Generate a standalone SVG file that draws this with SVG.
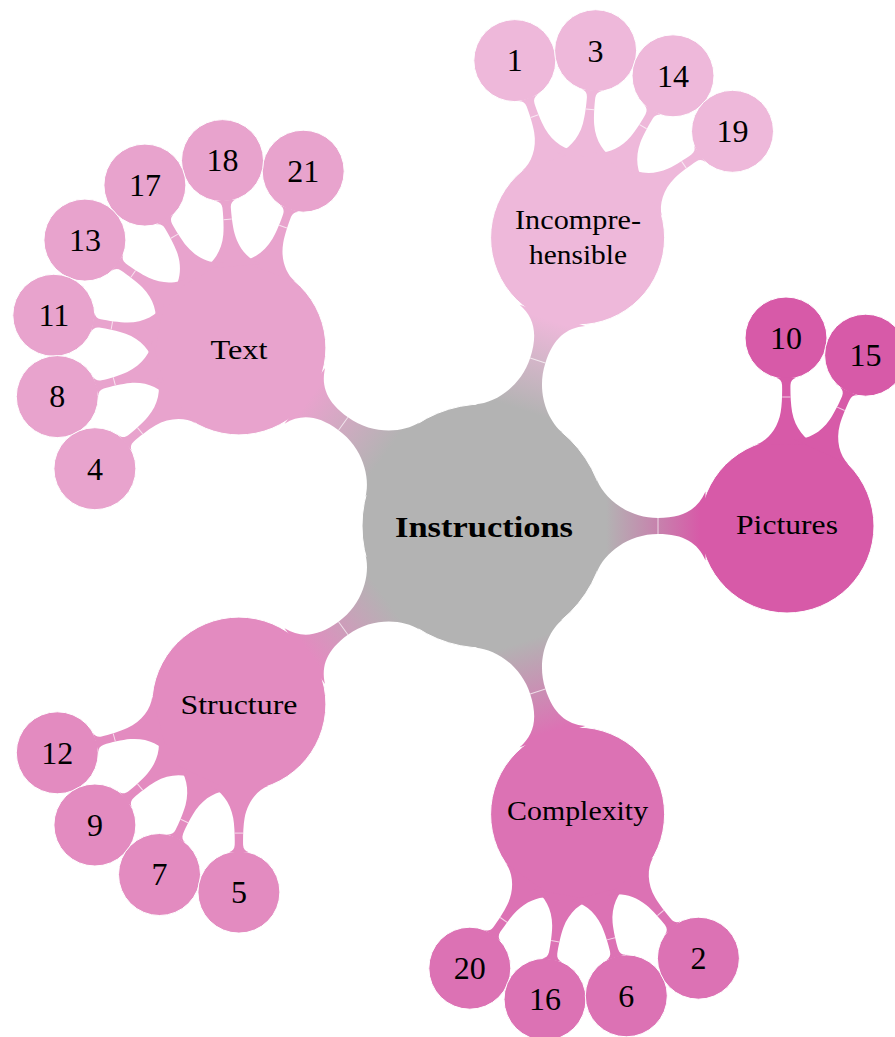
<svg xmlns="http://www.w3.org/2000/svg" width="895" height="1037" viewBox="0 0 895 1037">
  <style>
    text { font-family: "Liberation Serif", "DejaVu Serif", serif; fill: #000; }
    .num { font-size: 32px; text-anchor: middle; }
    .lbl { font-size: 28px; text-anchor: middle; }
    .root { font-size: 29.5px; font-weight: bold; text-anchor: middle; }
    circle { stroke: #ffffff; stroke-width: 1; }
    .seam { stroke: #ffffff; stroke-width: 1; stroke-opacity: 0.7; }
    .c-root { fill: #b3b3b3; }
    .c-inc { fill: #eeb8da; }
    .c-text { fill: #e8a3cd; }
    .c-struct { fill: #e38bc0; }
    .c-comp { fill: #dc72b4; }
    .c-pic { fill: #d75aa8; }
  </style>
  <defs>
    <!-- bar from the root circle (r=122) to a concept circle (r=87) 303 units away, along +x -->
    <g id="barA">
      <path d="M113.1 -45.7 C120.6 -27.2 144 -8 174 -8 C200 -8 214 -17 221.5 -34.5 L221.5 34.5 C214 17 200 8 174 8 C144 8 120.6 27.2 113.1 45.7 Z"/>
      <line class="seam" x1="174" y1="-8" x2="174" y2="8"/>
    </g>
    <!-- bar from a concept circle (r=87) to a leaf circle (r=41) 188 units away, along +x -->
    <g id="barB">
      <path d="M81.75 -29.76 C85.9 -18.5 98 -8.5 114 -5.7 C122 -4.3 134 -4 141 -4.2 C145 -4.4 147.3 -6.5 148.2 -9.9 L148.2 9.9 C147.3 6.5 145 4.4 141 4.2 C134 4 122 4.3 114 5.7 C98 8.5 85.9 18.5 81.75 29.76 Z"/>
      <line class="seam" x1="129" y1="-4.1" x2="129" y2="4.1"/>
    </g>
    <linearGradient id="gInc" gradientUnits="userSpaceOnUse" x1="122" y1="0" x2="216" y2="0">
      <stop offset="0" stop-color="#b3b3b3"/><stop offset="1" stop-color="#eeb8da"/>
    </linearGradient>
    <linearGradient id="gText" gradientUnits="userSpaceOnUse" x1="122" y1="0" x2="216" y2="0">
      <stop offset="0" stop-color="#b3b3b3"/><stop offset="1" stop-color="#e8a3cd"/>
    </linearGradient>
    <linearGradient id="gStruct" gradientUnits="userSpaceOnUse" x1="122" y1="0" x2="216" y2="0">
      <stop offset="0" stop-color="#b3b3b3"/><stop offset="1" stop-color="#e38bc0"/>
    </linearGradient>
    <linearGradient id="gComp" gradientUnits="userSpaceOnUse" x1="122" y1="0" x2="216" y2="0">
      <stop offset="0" stop-color="#b3b3b3"/><stop offset="1" stop-color="#dc72b4"/>
    </linearGradient>
    <linearGradient id="gPic" gradientUnits="userSpaceOnUse" x1="122" y1="0" x2="216" y2="0">
      <stop offset="0" stop-color="#b3b3b3"/><stop offset="1" stop-color="#d75aa8"/>
    </linearGradient>
  </defs>

  <!-- root -->
  <g id="instructions">
    <circle class="c-root" cx="484" cy="526" r="122"/>
  </g>

  <!-- first-level concepts -->
  <g id="incomprehensible">
    <circle class="c-inc" cx="577.6" cy="237.8" r="87"/>
  </g>
  <g id="text">
    <circle class="c-text" cx="238.9" cy="347.9" r="87"/>
  </g>
  <g id="structure">
    <circle class="c-struct" cx="238.9" cy="704.1" r="87"/>
  </g>
  <g id="complexity">
    <circle class="c-comp" cx="577.6" cy="814.2" r="87"/>
  </g>
  <g id="pictures">
    <circle class="c-pic" cx="787" cy="526" r="87"/>
  </g>

  <!-- leaves of Incomprehensible -->
  <g id="leaf-1"><circle class="c-inc" cx="514.8" cy="60.6" r="41"/></g>
  <g id="leaf-3"><circle class="c-inc" cx="595.6" cy="50.7" r="41"/></g>
  <g id="leaf-14"><circle class="c-inc" cx="673" cy="75.8" r="41"/></g>
  <g id="leaf-19"><circle class="c-inc" cx="732.5" cy="131.3" r="41"/></g>

  <!-- leaves of Text -->
  <g id="leaf-21"><circle class="c-text" cx="303.2" cy="171.2" r="41"/></g>
  <g id="leaf-18"><circle class="c-text" cx="222.5" cy="160.6" r="41"/></g>
  <g id="leaf-17"><circle class="c-text" cx="144.9" cy="185.1" r="41"/></g>
  <g id="leaf-13"><circle class="c-text" cx="84.9" cy="240.1" r="41"/></g>
  <g id="leaf-11"><circle class="c-text" cx="53.8" cy="315.3" r="41"/></g>
  <g id="leaf-8"><circle class="c-text" cx="57.3" cy="396.6" r="41"/></g>
  <g id="leaf-4"><circle class="c-text" cx="94.9" cy="468.7" r="41"/></g>

  <!-- leaves of Pictures -->
  <g id="leaf-10"><circle class="c-pic" cx="786" cy="338" r="41"/></g>
  <g id="leaf-15"><circle class="c-pic" cx="865.6" cy="355.2" r="41"/></g>

  <!-- leaves of Complexity -->
  <g id="leaf-20"><circle class="c-comp" cx="469.8" cy="968.2" r="41"/></g>
  <g id="leaf-16"><circle class="c-comp" cx="545" cy="999.3" r="41"/></g>
  <g id="leaf-6"><circle class="c-comp" cx="626.3" cy="995.8" r="41"/></g>
  <g id="leaf-2"><circle class="c-comp" cx="698.4" cy="958.2" r="41"/></g>

  <!-- leaves of Structure -->
  <g id="leaf-12"><circle class="c-struct" cx="57.3" cy="752.8" r="41"/></g>
  <g id="leaf-9"><circle class="c-struct" cx="94.9" cy="825" r="41"/></g>
  <g id="leaf-7"><circle class="c-struct" cx="159.5" cy="874.5" r="41"/></g>
  <g id="leaf-5"><circle class="c-struct" cx="238.9" cy="892.1" r="41"/></g>

  <!-- connection bars -->
  <g id="connectors">
    <use href="#barA" transform="translate(484 526) rotate(-72)" fill="url(#gInc)"/>
    <use href="#barA" transform="translate(484 526) rotate(-144)" fill="url(#gText)"/>
    <use href="#barA" transform="translate(484 526) rotate(144)" fill="url(#gStruct)"/>
    <use href="#barA" transform="translate(484 526) rotate(72)" fill="url(#gComp)"/>
    <use href="#barA" transform="translate(484 526) rotate(0)" fill="url(#gPic)"/>

    <use href="#barB" transform="translate(577.6 237.8) rotate(-109.5)" fill="#eeb8da"/>
    <use href="#barB" transform="translate(577.6 237.8) rotate(-84.5)" fill="#eeb8da"/>
    <use href="#barB" transform="translate(577.6 237.8) rotate(-59.5)" fill="#eeb8da"/>
    <use href="#barB" transform="translate(577.6 237.8) rotate(-34.5)" fill="#eeb8da"/>

    <use href="#barB" transform="translate(238.9 347.9) rotate(-70)" fill="#e8a3cd"/>
    <use href="#barB" transform="translate(238.9 347.9) rotate(-95)" fill="#e8a3cd"/>
    <use href="#barB" transform="translate(238.9 347.9) rotate(-120)" fill="#e8a3cd"/>
    <use href="#barB" transform="translate(238.9 347.9) rotate(-145)" fill="#e8a3cd"/>
    <use href="#barB" transform="translate(238.9 347.9) rotate(-170)" fill="#e8a3cd"/>
    <use href="#barB" transform="translate(238.9 347.9) rotate(-195)" fill="#e8a3cd"/>
    <use href="#barB" transform="translate(238.9 347.9) rotate(-220)" fill="#e8a3cd"/>

    <use href="#barB" transform="translate(787 526) rotate(-90.3)" fill="#d75aa8"/>
    <use href="#barB" transform="translate(787 526) rotate(-65.3)" fill="#d75aa8"/>

    <use href="#barB" transform="translate(577.6 814.2) rotate(125)" fill="#dc72b4"/>
    <use href="#barB" transform="translate(577.6 814.2) rotate(100)" fill="#dc72b4"/>
    <use href="#barB" transform="translate(577.6 814.2) rotate(75)" fill="#dc72b4"/>
    <use href="#barB" transform="translate(577.6 814.2) rotate(50)" fill="#dc72b4"/>

    <use href="#barB" transform="translate(238.9 704.1) rotate(165)" fill="#e38bc0"/>
    <use href="#barB" transform="translate(238.9 704.1) rotate(140)" fill="#e38bc0"/>
    <use href="#barB" transform="translate(238.9 704.1) rotate(115)" fill="#e38bc0"/>
    <use href="#barB" transform="translate(238.9 704.1) rotate(90)" fill="#e38bc0"/>
  </g>

  <!-- labels -->
  <g id="labels">
    <text class="root" x="484" y="536.5" textLength="178" lengthAdjust="spacingAndGlyphs">Instructions</text>
    <text class="lbl" x="578" y="228.5" textLength="126" lengthAdjust="spacingAndGlyphs">Incompre-</text>
    <text class="lbl" x="578" y="263.5" textLength="98" lengthAdjust="spacingAndGlyphs">hensible</text>
    <text class="lbl" x="239" y="359" textLength="57" lengthAdjust="spacingAndGlyphs">Text</text>
    <text class="lbl" x="239" y="713.5" textLength="117" lengthAdjust="spacingAndGlyphs">Structure</text>
    <text class="lbl" x="577.6" y="819.5" textLength="141" lengthAdjust="spacingAndGlyphs">Complexity</text>
    <text class="lbl" x="787" y="533.5" textLength="102" lengthAdjust="spacingAndGlyphs">Pictures</text>

    <text class="num" x="514.8" y="71.4">1</text>
    <text class="num" x="595.6" y="61.5">3</text>
    <text class="num" x="673" y="86.6">14</text>
    <text class="num" x="732.5" y="142.1">19</text>

    <text class="num" x="303.2" y="182">21</text>
    <text class="num" x="222.5" y="171.4">18</text>
    <text class="num" x="144.9" y="195.9">17</text>
    <text class="num" x="84.9" y="250.9">13</text>
    <text class="num" x="53.8" y="326.1">11</text>
    <text class="num" x="57.3" y="407.4">8</text>
    <text class="num" x="94.9" y="479.5">4</text>

    <text class="num" x="786" y="348.8">10</text>
    <text class="num" x="865.6" y="366">15</text>

    <text class="num" x="469.8" y="979">20</text>
    <text class="num" x="545" y="1010.1">16</text>
    <text class="num" x="626.3" y="1006.6">6</text>
    <text class="num" x="698.4" y="969">2</text>

    <text class="num" x="57.3" y="763.6">12</text>
    <text class="num" x="94.9" y="835.8">9</text>
    <text class="num" x="159.5" y="885.3">7</text>
    <text class="num" x="238.9" y="902.9">5</text>
  </g>
</svg>
